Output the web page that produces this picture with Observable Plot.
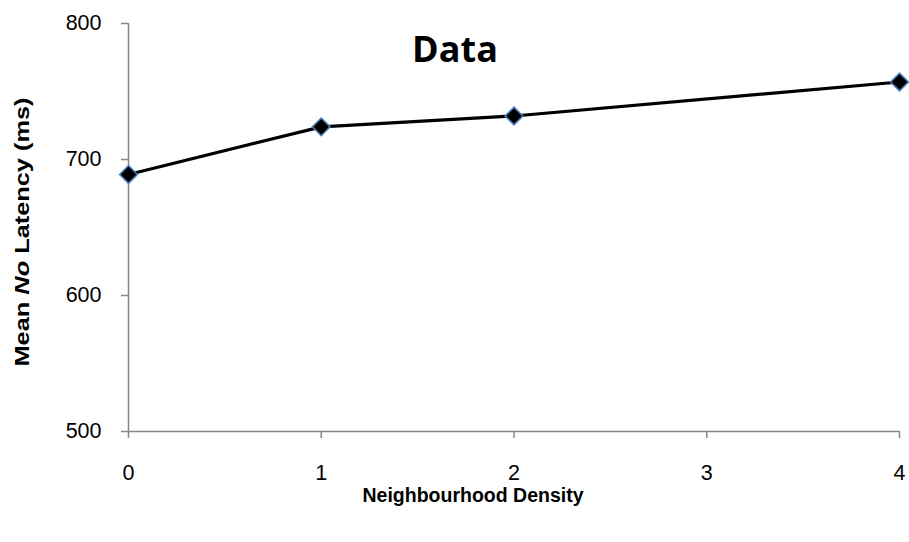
<!DOCTYPE html>
<html>
<head>
<meta charset="utf-8">
<script src="https://cdn.jsdelivr.net/npm/d3@7"></script>
<script src="https://cdn.jsdelivr.net/npm/@observablehq/plot@0.6"></script>
<style>
  html, body { margin: 0; padding: 0; background: #fff; }
  #chart { width: 909px; height: 542px; }
  #chart svg g[aria-label$="tick label"],
  #chart svg g[aria-label$="tick label"] text {
    font-size: 21.5px !important;
    font-family: 'Liberation Sans', Arial, sans-serif !important;
  }
</style>
</head>
<body>
<div id="chart"></div>
<script>
const density = [0, 1, 2, 4];
const latency = [689, 724, 732, 757];
const xTicks = [0, 1, 2, 3, 4];
const yTicks = [500, 600, 700, 800];
const chartTitle = "Data";
const xTitle = "Neighbourhood Density";
const yTitleParts = [["Mean ", "normal"], ["No", "italic"], [" Latency (ms)", "normal"]];

const data = density.map((d, i) => ({x: d, y: latency[i]}));
const axisColor = "#868686";
const font = "'Liberation Sans', Arial, sans-serif";

const plot = Plot.plot({
  width: 909,
  height: 542,
  marginLeft: 128,
  marginRight: 10,
  marginTop: 23,
  marginBottom: 111,
  style: {fontFamily: font, fontSize: "21.5px", color: "#000", background: "#fff"},
  x: {domain: [0, 4], ticks: xTicks},
  y: {domain: [500, 800], ticks: yTicks},
  marks: [
    Plot.ruleY([500], {stroke: axisColor, strokeWidth: 1.5}),
    Plot.ruleX([0], {stroke: axisColor, strokeWidth: 1.5}),
    Plot.axisX({ticks: xTicks, tickSize: 7, tickPadding: 26, stroke: axisColor, strokeWidth: 1.5, label: null, fontSize: 21.5, fill: "#000", tickFormat: d => String(d)}),
    Plot.axisY({ticks: yTicks, tickSize: 7, tickPadding: 20, stroke: axisColor, strokeWidth: 1.5, label: null, fontSize: 21.5, fill: "#000", tickFormat: d => String(d)}),
    Plot.line(data, {x: "x", y: "y", stroke: "#000", strokeWidth: 3.2}),
    Plot.dot(data, {x: "x", y: "y", symbol: "diamond2", r: 8, fill: "#000", stroke: "#4a7ebb", strokeWidth: 1.5})
  ]
});

document.getElementById("chart").appendChild(plot);
const svg = d3.select(plot);

svg.append("text")
  .attr("x", 455).attr("y", 62)
  .attr("text-anchor", "middle")
  .style("font-family", "'Open Sans', sans-serif")
  .style("font-weight", 700)
  .style("font-size", "36px")
  .attr("fill", "#000")
  .text(chartTitle);

svg.append("text")
  .attr("x", 473).attr("y", 502)
  .attr("text-anchor", "middle")
  .style("font-family", font)
  .style("font-weight", 700)
  .style("font-size", "19.5px")
  .attr("fill", "#000")
  .text(xTitle);

const yt = svg.append("text")
  .attr("transform", "translate(29,232) rotate(-90) scale(1.3,1)")
  .attr("text-anchor", "middle")
  .style("font-family", font)
  .style("font-weight", 700)
  .style("font-size", "19.5px")
  .attr("fill", "#000");
yTitleParts.forEach(([t, s]) => yt.append("tspan").style("font-style", s).text(t));
</script>
</body>
</html>
